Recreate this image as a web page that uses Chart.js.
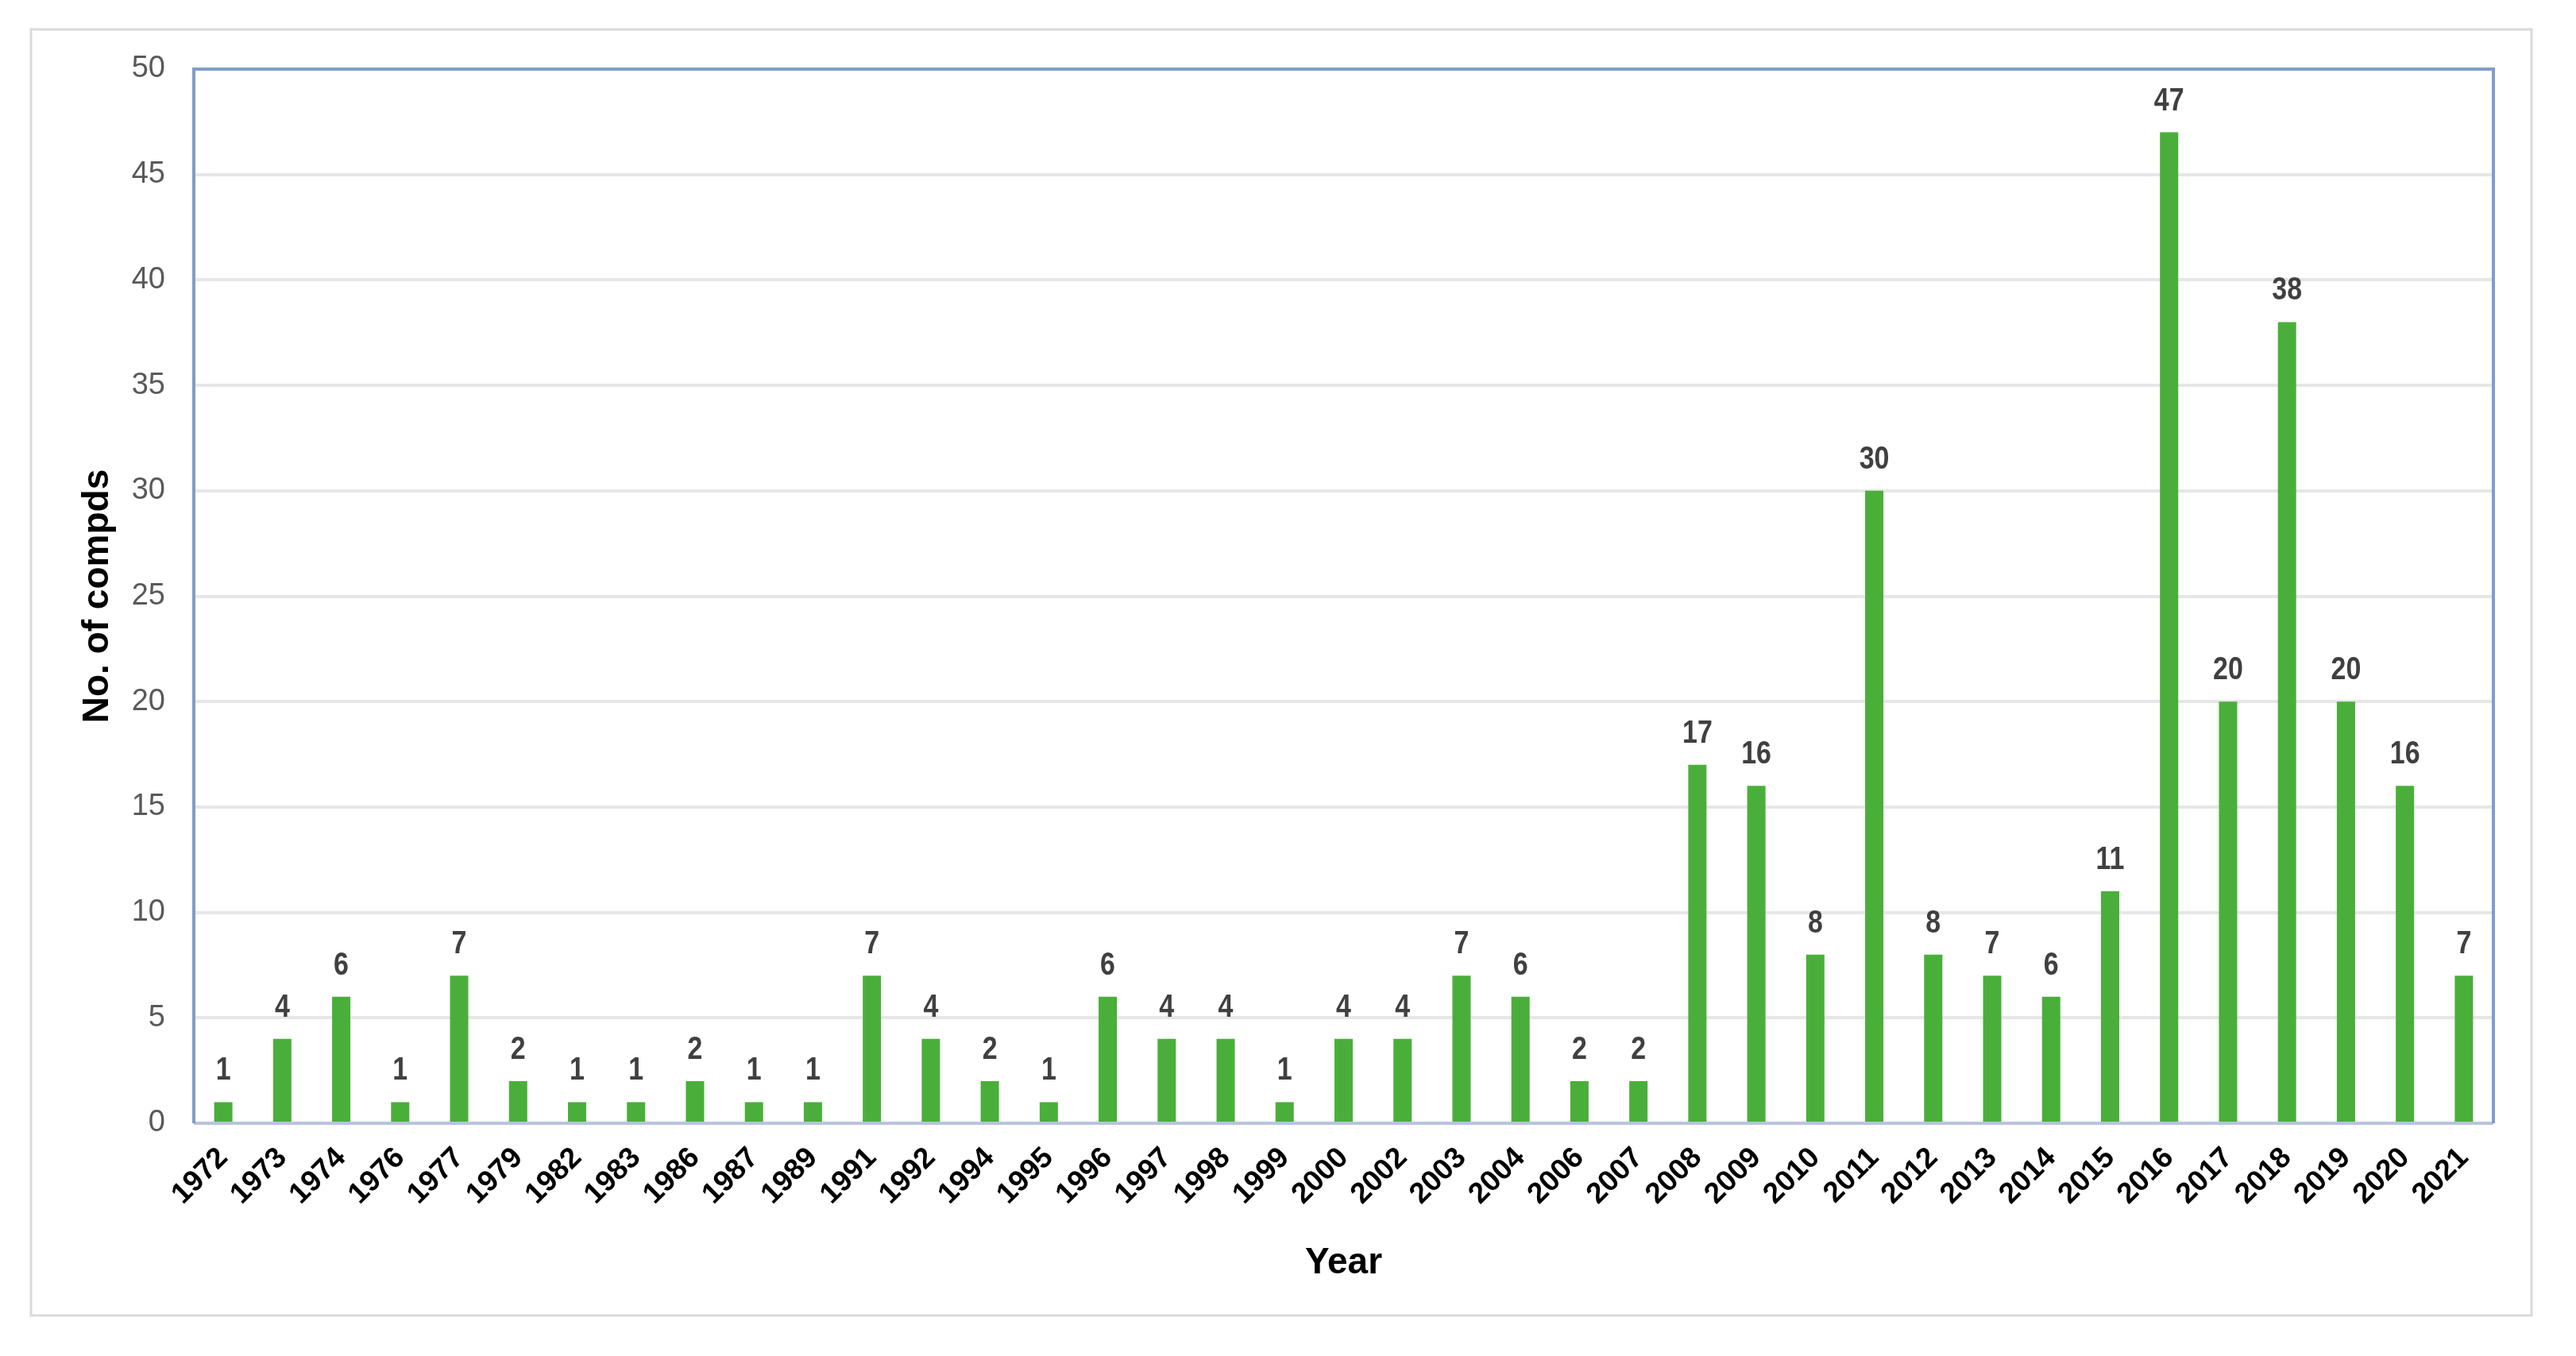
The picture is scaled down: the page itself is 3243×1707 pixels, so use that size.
<!DOCTYPE html>
<html>
<head>
<meta charset="utf-8">
<script src="https://cdn.jsdelivr.net/npm/chart.js@4.4.1/dist/chart.umd.min.js"></script>
<style>
  html, body { margin: 0; padding: 0; background: #ffffff; }
  #wrap { width: 3243px; height: 1707px; }
</style>
</head>
<body>
<div id="wrap"><canvas id="compdsChart" width="3243" height="1707"></canvas></div>
<script>
// Data
const years = ['1972', '1973', '1974', '1976', '1977', '1979', '1982', '1983', '1986', '1987',
    '1989', '1991', '1992', '1994', '1995', '1996', '1997', '1998', '1999', '2000',
    '2002', '2003', '2004', '2006', '2007', '2008', '2009', '2010', '2011', '2012',
    '2013', '2014', '2015', '2016', '2017', '2018', '2019', '2020', '2021'];
const counts = [1, 4, 6, 1, 7, 2, 1, 1, 2, 1,
    1, 7, 4, 2, 1, 6, 4, 4, 1, 4,
    4, 7, 6, 2, 2, 17, 16, 8, 30, 8,
    7, 6, 11, 47, 20, 38, 20, 16, 7];
const yTicks = [0, 5, 10, 15, 20, 25, 30, 35, 40, 45, 50];

const plainFont = '"Liberation Sans", Arial, sans-serif';

// Outer light frame around the whole figure
const outerFrame = {
    id: 'outerFrame',
    beforeDraw(chart) {
        const ctx = chart.ctx;
        ctx.save();
        ctx.fillStyle = '#ffffff';
        ctx.fillRect(0, 0, chart.width, chart.height);
        ctx.strokeStyle = '#dadada';
        ctx.lineWidth = 3;
        ctx.strokeRect(39, 37, 3148, 1619);
        ctx.restore();
    }
};

// Blue border around the plot area, value labels above bars
const plotBorder = {
    id: 'plotBorder',
    afterDatasetsDraw(chart) {
        const { ctx, chartArea } = chart;
        ctx.save();
        ctx.strokeStyle = '#b7c4dc';
        ctx.lineWidth = 4;
        ctx.beginPath();
        ctx.moveTo(chartArea.left, chartArea.bottom);
        ctx.lineTo(chartArea.right, chartArea.bottom);
        ctx.stroke();
        ctx.strokeStyle = '#7f9dc9';
        ctx.beginPath();
        ctx.moveTo(chartArea.left, chartArea.bottom);
        ctx.lineTo(chartArea.left, chartArea.top);
        ctx.lineTo(chartArea.right, chartArea.top);
        ctx.lineTo(chartArea.right, chartArea.bottom);
        ctx.stroke();

        // narrow bold numbers, squeezed a little to look condensed
        const meta = chart.getDatasetMeta(0);
        ctx.font = 'bold 40px ' + plainFont;
        ctx.fillStyle = '#404040';
        ctx.textAlign = 'center';
        ctx.textBaseline = 'alphabetic';
        meta.data.forEach((bar, i) => {
            ctx.save();
            ctx.translate(bar.x, bar.y - 28);
            ctx.scale(0.85, 1);
            ctx.fillText(String(counts[i]), 0, 0);
            ctx.restore();
        });
        ctx.restore();
    }
};

new Chart(document.getElementById('compdsChart'), {
    type: 'bar',
    data: {
        labels: years,
        datasets: [{
            label: 'No. of compds',
            data: counts,
            backgroundColor: '#4aaf3a',
            borderWidth: 0,
            barPercentage: 0.62,
            categoryPercentage: 0.5
        }]
    },
    options: {
        responsive: false,
        animation: false,
        devicePixelRatio: 1,
        layout: {
            padding: { top: 87, right: 104, left: 0, bottom: 0 }
        },
        plugins: {
            legend: { display: false },
            tooltip: { enabled: false }
        },
        scales: {
            x: {
                grid: { display: false, drawTicks: false },
                border: { display: false },
                ticks: {
                    color: '#000000',
                    font: { family: plainFont, size: 37, weight: 'bold' },
                    maxRotation: 45,
                    minRotation: 45,
                    autoSkip: false,
                    padding: 22
                },
                title: {
                    display: true,
                    text: 'Year',
                    color: '#000000',
                    font: { family: plainFont, size: 46, weight: 'bold' },
                    padding: { top: 0, bottom: 89 }
                },
                afterFit(scale) {
                    scale.height = 293;
                }
            },
            y: {
                min: 0,
                max: 50,
                afterBuildTicks(scale) {
                    scale.ticks = yTicks.map(v => ({ value: v }));
                },
                grid: {
                    color: '#e6e6e6',
                    lineWidth: 4,
                    drawTicks: false
                },
                border: { display: false },
                ticks: {
                    color: '#595959',
                    font: { family: plainFont, size: 38 },
                    padding: 36
                },
                title: {
                    display: true,
                    text: 'No. of compds',
                    color: '#000000',
                    font: { family: plainFont, size: 46, weight: 'bold' },
                    padding: { top: 96, bottom: 0 }
                },
                afterFit(scale) {
                    scale.width = 244;
                }
            }
        }
    },
    plugins: [outerFrame, plotBorder]
});
</script>
</body>
</html>
